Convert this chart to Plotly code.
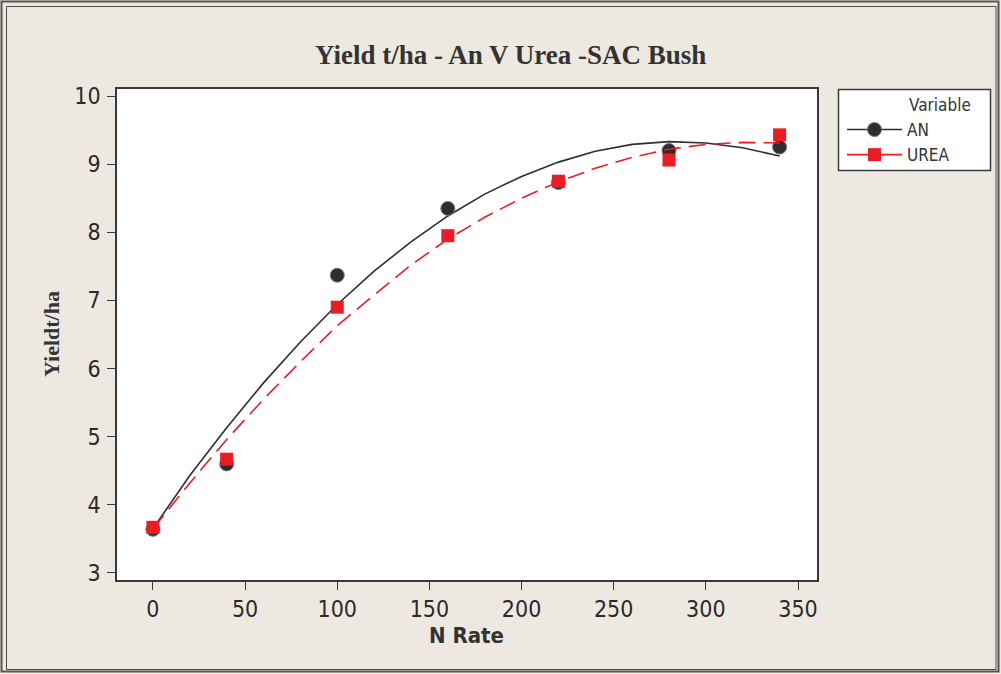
import plotly.graph_objects as go

# Observed yields (t/ha) by nitrogen rate
n_rate = [0, 40, 100, 160, 220, 280, 340]
yield_an = [3.64, 4.60, 7.37, 8.35, 8.73, 9.20, 9.25]
yield_urea = [3.67, 4.67, 6.90, 7.95, 8.75, 9.06, 9.43]

# Fitted response curves
fit_x = [0, 20, 40, 60, 80, 100, 120, 140, 160, 180, 200, 220, 240, 260, 280, 300, 320, 340]
fit_an = [3.65, 4.43, 5.13, 5.79, 6.39, 6.94, 7.43, 7.86, 8.24, 8.56, 8.82, 9.03, 9.19, 9.29, 9.33, 9.31, 9.24, 9.12]
fit_urea = [3.65, 4.32, 4.96, 5.55, 6.10, 6.63, 7.08, 7.52, 7.90, 8.22, 8.50, 8.74, 8.94, 9.10, 9.22, 9.29, 9.32, 9.31]

x_ticks = [0, 50, 100, 150, 200, 250, 300, 350]
y_ticks = [3, 4, 5, 6, 7, 8, 9, 10]

BG = "#EEE9E0"
DARK = "#2E2E30"
RED = "#ED1C24"
SANS = "DejaVu Sans Condensed, DejaVu Sans, sans-serif"
SERIF = "Liberation Serif, Times New Roman, serif"

W, H = 1001, 674
L, R, T, B = 117, 184, 89, 94
PW, PH = W - L - R, H - T - B


def px(x):
    return (x - L) / PW


def py(y):
    return (H - B - y) / PH


fig = go.Figure()

fig.add_trace(go.Scatter(x=fit_x, y=fit_an, mode="lines", showlegend=False,
                         line=dict(color=DARK, width=1.6), hoverinfo="skip"))
fig.add_trace(go.Scatter(x=n_rate, y=yield_an, mode="markers", showlegend=False,
                         marker=dict(symbol="circle", size=14, color=DARK,
                                     line=dict(color="#7A7A7A", width=1))))
fig.add_trace(go.Scatter(x=fit_x, y=fit_urea, mode="lines", showlegend=False,
                         line=dict(color=RED, width=1.6, dash="17px,8px"), hoverinfo="skip"))
fig.add_trace(go.Scatter(x=n_rate, y=yield_urea, mode="markers", showlegend=False,
                         marker=dict(symbol="square", size=13, color=RED,
                                     line=dict(color=RED, width=0))))

# Legend entries (line + marker)
fig.add_trace(go.Scatter(x=[None], y=[None], mode="lines+markers", name="AN",
                         line=dict(color=DARK, width=1.6),
                         marker=dict(symbol="circle", size=14, color=DARK,
                                     line=dict(color="#7A7A7A", width=1))))
fig.add_trace(go.Scatter(x=[None], y=[None], mode="lines+markers", name="UREA",
                         line=dict(color=RED, width=1.6),
                         marker=dict(symbol="square", size=13, color=RED)))

axis_common = dict(
    showgrid=False, zeroline=False, showline=True, linecolor="#3A3A3A", linewidth=1.5,
    mirror=True, ticks="outside", ticklen=8, tickwidth=1, tickcolor="#3A3A3A",
    tickfont=dict(family=SANS, size=23, color="#2A2A2A"),
)

fig.update_xaxes(range=[-19.5, 360.3], tickvals=x_ticks, **axis_common)
fig.update_yaxes(range=[2.897, 10.103], tickvals=y_ticks, ticklabelstandoff=2, **axis_common)

shapes = [
    # outer frame
    dict(type="rect", xref="paper", yref="paper", x0=px(1.5), x1=px(998.5), y0=py(1.5), y1=py(671.5),
         line=dict(color="#555555", width=2), layer="below"),
    dict(type="rect", xref="paper", yref="paper", x0=px(6.5), x1=px(996), y0=py(6.5), y1=py(669.5),
         line=dict(color="#4A4A4A", width=1), layer="below"),
    # legend box
    dict(type="rect", xref="paper", yref="paper", x0=px(838.5), x1=px(990.5), y0=py(89.5), y1=py(170.5),
         line=dict(color="#3A3A3A", width=1.5), fillcolor="white", layer="below"),
]

annotations = [
    dict(text="<b>Yield t/ha - An V Urea -SAC Bush</b>", xref="paper", yref="paper",
         x=px(510), y=py(55), xanchor="center", yanchor="middle", showarrow=False,
         font=dict(family=SERIF, size=27, color="#333333")),
    dict(text="<b>N Rate</b>", xref="paper", yref="paper",
         x=px(466), y=py(635), xanchor="center", yanchor="middle", showarrow=False,
         font=dict(family=SANS, size=22, color="#333333")),
    dict(text="<b>Yieldt/ha</b>", xref="paper", yref="paper", textangle=-90,
         x=px(51), y=py(334), xanchor="center", yanchor="middle", showarrow=False,
         font=dict(family=SERIF, size=22, color="#333333")),
    dict(text="Variable", xref="paper", yref="paper",
         x=px(907), y=py(105), xanchor="left", yanchor="middle", showarrow=False,
         font=dict(family=SANS, size=17, color="#333333")),
]

fig.update_layout(
    width=W, height=H,
    margin=dict(l=L, r=R, t=T, b=B, pad=0),
    paper_bgcolor=BG, plot_bgcolor="white",
    shapes=shapes, annotations=annotations,
    legend=dict(x=px(842), y=py(112), xanchor="left", yanchor="top",
                bgcolor="rgba(0,0,0,0)", borderwidth=0, itemwidth=55,
                tracegroupgap=0, font=dict(family=SANS, size=17, color="#333333")),
    showlegend=True,
)

fig.write_html("out.html")
